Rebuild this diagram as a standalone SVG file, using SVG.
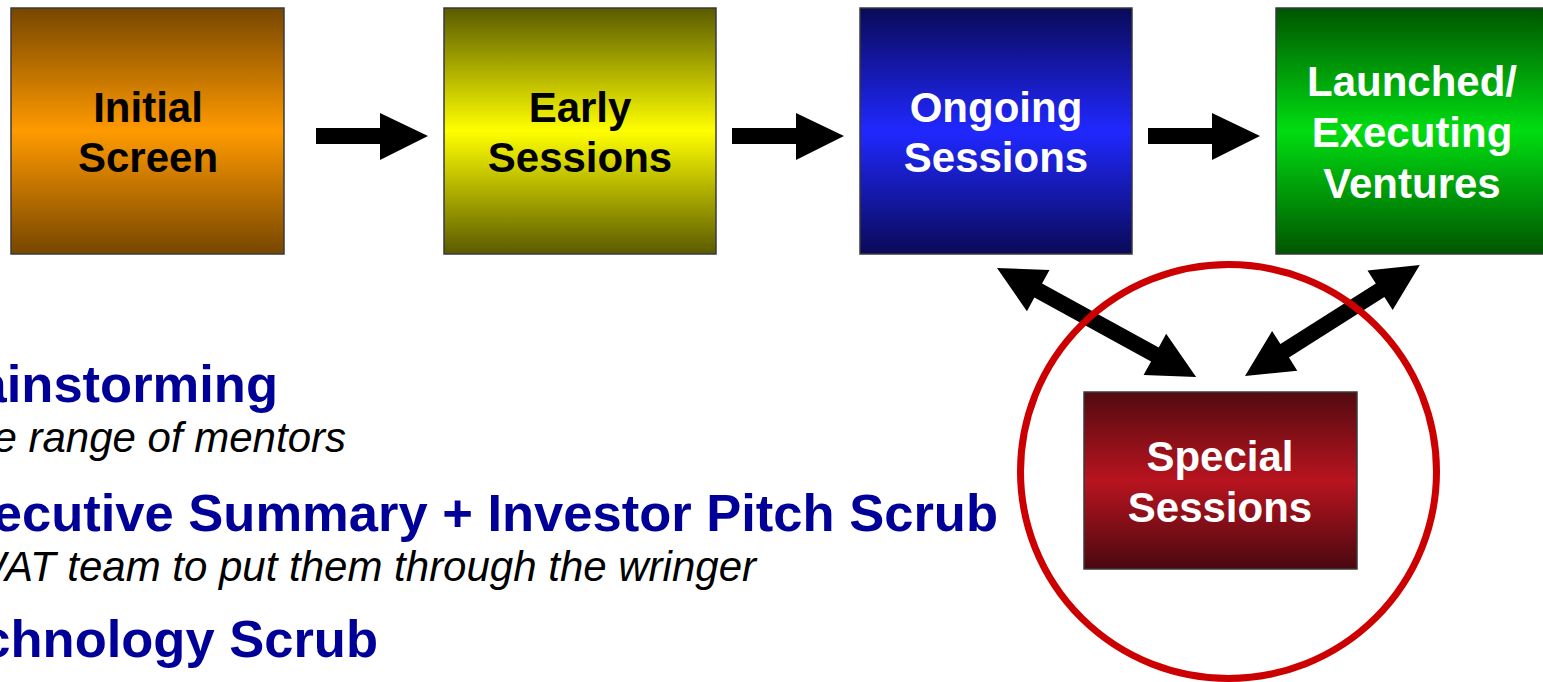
<svg xmlns="http://www.w3.org/2000/svg" width="1543" height="682" viewBox="0 0 1543 682">
  <style>
    .box { stroke: #3a3a3a; stroke-width: 1.5; }
    .lbl { font-family: "Liberation Sans", Arial, sans-serif; font-weight: bold; font-size: 42px; text-anchor: middle; }
    .dark { fill: #000000; }
    .light { fill: #ffffff; }
    .arrow { fill: #000000; }
    .head { font-family: "Liberation Sans", Arial, sans-serif; font-weight: bold; font-size: 52.5px; fill: #000099; text-anchor: end; }
    .sub { font-family: "Liberation Sans", Arial, sans-serif; font-style: italic; font-size: 42px; fill: #000000; text-anchor: end; }
  </style>
  <defs>
    <linearGradient id="gOrange" x1="0" y1="0" x2="0" y2="1">
      <stop offset="0" stop-color="#774600"/>
      <stop offset="0.5" stop-color="#ff9a00"/>
      <stop offset="1" stop-color="#774600"/>
    </linearGradient>
    <linearGradient id="gYellow" x1="0" y1="0" x2="0" y2="1">
      <stop offset="0" stop-color="#5a5a00"/>
      <stop offset="0.5" stop-color="#ffff00"/>
      <stop offset="1" stop-color="#5a5a00"/>
    </linearGradient>
    <linearGradient id="gBlue" x1="0" y1="0" x2="0" y2="1">
      <stop offset="0" stop-color="#0a0a58"/>
      <stop offset="0.5" stop-color="#2028ff"/>
      <stop offset="1" stop-color="#0a0a58"/>
    </linearGradient>
    <linearGradient id="gGreen" x1="0" y1="0" x2="0" y2="1">
      <stop offset="0" stop-color="#005500"/>
      <stop offset="0.5" stop-color="#00dd11"/>
      <stop offset="1" stop-color="#005500"/>
    </linearGradient>
    <linearGradient id="gRed" x1="0" y1="0" x2="0" y2="1">
      <stop offset="0" stop-color="#520a10"/>
      <stop offset="0.5" stop-color="#b8141f"/>
      <stop offset="1" stop-color="#4a0810"/>
    </linearGradient>
  </defs>

  <!-- process stages -->
  <g id="initial-screen">
    <rect class="box" x="11" y="8" width="273" height="246" fill="url(#gOrange)"/>
    <text class="lbl dark" x="148" y="122">Initial</text>
    <text class="lbl dark" x="148" y="172">Screen</text>
  </g>
  <g id="early-sessions">
    <rect class="box" x="444" y="8" width="272" height="246" fill="url(#gYellow)"/>
    <text class="lbl dark" x="580" y="122">Early</text>
    <text class="lbl dark" x="580" y="172">Sessions</text>
  </g>
  <g id="ongoing-sessions">
    <rect class="box" x="860" y="8" width="272" height="246" fill="url(#gBlue)"/>
    <text class="lbl light" x="996" y="122">Ongoing</text>
    <text class="lbl light" x="996" y="172">Sessions</text>
  </g>
  <g id="launched-ventures">
    <rect class="box" x="1276" y="8" width="272" height="246" fill="url(#gGreen)"/>
    <text class="lbl light" x="1412" y="96">Launched/</text>
    <text class="lbl light" x="1412" y="147">Executing</text>
    <text class="lbl light" x="1412" y="198">Ventures</text>
  </g>
  <g id="special-sessions">
    <rect class="box" x="1084" y="392" width="273" height="177" fill="url(#gRed)"/>
    <text class="lbl light" x="1220" y="471">Special</text>
    <text class="lbl light" x="1220" y="522">Sessions</text>
  </g>

  <!-- connectors -->
  <g id="connectors">
    <polygon class="arrow" points="316,128 380,128 380,113 428,136 380,160 380,144 316,144"/>
    <polygon class="arrow" points="732,128 796,128 796,113 844,136 796,160 796,144 732,144"/>
    <polygon class="arrow" points="1148,128 1212,128 1212,113 1260,136 1212,160 1212,144 1148,144"/>
    <!-- two-way links to the special sessions box -->
    <polygon class="arrow" transform="translate(997,268) rotate(28.7)"
             points="0,0 47,-23.5 47,-8 180,-8 180,-23.5 227,0 180,23.5 180,8 47,8 47,23.5"/>
    <polygon class="arrow" transform="translate(1245,376) rotate(-32.4)"
             points="0,0 47,-23.5 47,-8 160,-8 160,-23.5 207,0 160,23.5 160,8 47,8 47,23.5"/>
  </g>

  <!-- highlight ring -->
  <ellipse id="highlight" cx="1228.5" cy="471.5" rx="208" ry="207" fill="none" stroke="#cc0000" stroke-width="7"/>

  <!-- list of special session types -->
  <g id="session-list">
    <text class="head" x="278" y="402">Brainstorming</text>
    <text class="sub" x="346" y="452">Wide range of mentors</text>
    <text class="head" x="998" y="531">Executive Summary + Investor Pitch Scrub</text>
    <text class="sub" x="756" y="581">SWAT team to put them through the wringer</text>
    <text class="head" x="378" y="657">Technology Scrub</text>
  </g>
</svg>
